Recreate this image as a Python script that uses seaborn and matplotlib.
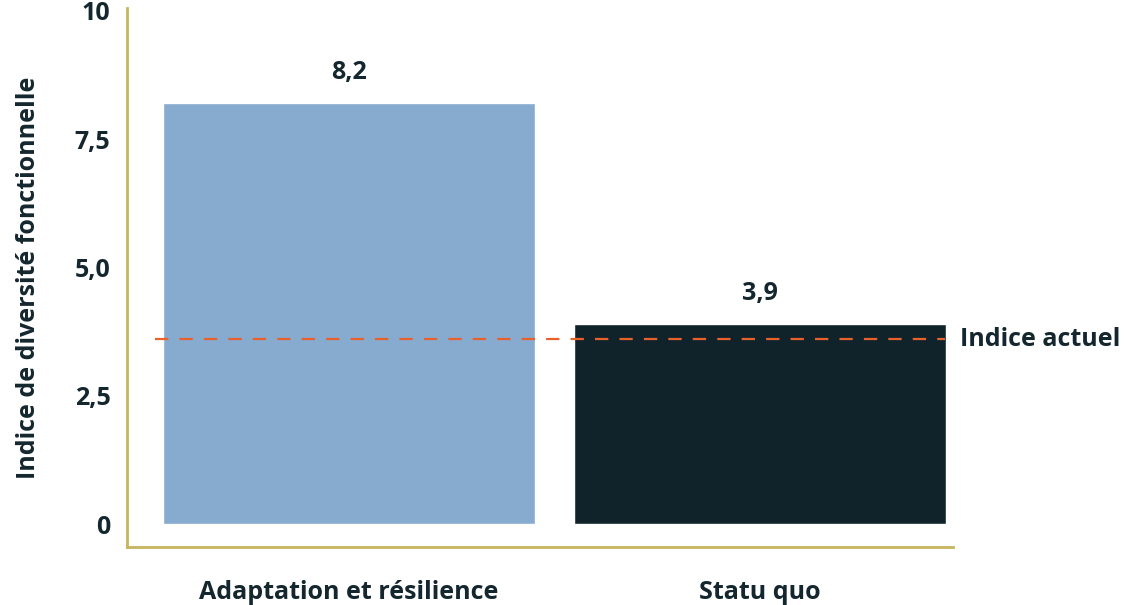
import matplotlib
matplotlib.use("Agg")
import matplotlib.pyplot as plt
import seaborn as sns
import pandas as pd

# Data
scenarios = ["Adaptation et résilience", "Statu quo"]
indices = [8.2, 3.9]
value_labels = ["8,2", "3,9"]
current_index = 3.6
current_label = "Indice actuel"
y_ticks = [0, 2.5, 5.0, 7.5, 10]
y_tick_labels = ["0", "2,5", "5,0", "7,5", "10"]

bar_colors = ["#86abcf", "#10232a"]
text_color = "#14262e"
spine_color = "#c8b45a"
line_color = "#e8602c"

sns.set_theme(style="white")
plt.rcParams["font.family"] = ["Open Sans", "DejaVu Sans"]
plt.rcParams["font.weight"] = "bold"

df = pd.DataFrame({"scenario": scenarios, "indice": indices})

fig = plt.figure(figsize=(11.31, 6.05), dpi=100)
ax = fig.add_axes([127 / 1131, 1 - 547 / 605, (953 - 127) / 1131, (547 - 8) / 605])

sns.barplot(data=df, x="scenario", y="indice", hue="scenario",
            palette=bar_colors, width=0.905, saturation=1, legend=False, ax=ax)

ax.set_xlim(-0.54, 1.47)
ax.set_ylim(-0.44, 10.05)

fs = 18
for i, (v, lab) in enumerate(zip(indices, value_labels)):
    ax.annotate(lab, (i, v), xytext=(0, 13), textcoords="offset points",
                ha="center", va="bottom", fontsize=fs, fontweight="bold",
                color=text_color)

ax.plot([-0.472, 1.45], [current_index, current_index], color=line_color,
        lw=1.6, dashes=(6, 5), zorder=3)
ax.text(1.488, current_index, current_label, ha="left", va="center",
        fontsize=fs, fontweight="bold", color=text_color, clip_on=False)

ax.set_yticks(y_ticks)
ax.set_yticklabels(y_tick_labels)
ax.tick_params(axis="y", length=0, pad=12, labelsize=fs, labelcolor=text_color)
ax.tick_params(axis="x", length=0, pad=24, labelsize=fs, labelcolor=text_color)
for t in ax.get_xticklabels() + ax.get_yticklabels():
    t.set_fontweight("bold")

ax.set_xlabel("")
ax.set_ylabel("Indice de diversité fonctionnelle", fontsize=fs,
              fontweight="bold", color=text_color, labelpad=24)

for side in ["top", "right"]:
    ax.spines[side].set_visible(False)
for side in ["left", "bottom"]:
    ax.spines[side].set_color(spine_color)
    ax.spines[side].set_linewidth(2)

fig.savefig("out.png", dpi=100)
